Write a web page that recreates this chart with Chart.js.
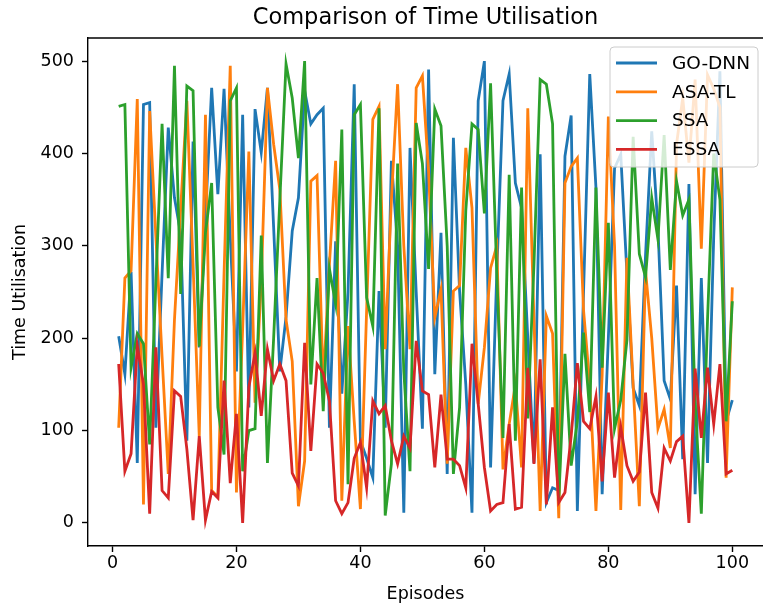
<!DOCTYPE html>
<html>
<head>
<meta charset="utf-8">
<script src="https://cdn.jsdelivr.net/npm/chart.js@4.4.0/dist/chart.umd.min.js"></script>
<style>
  html, body { margin: 0; padding: 0; background: #fff; }
  canvas { display: block; }
</style>
</head>
<body>
<canvas id="timeChart" width="763" height="608"></canvas>
<script>
// Episodes 1..100 on the x axis
const episodes = Array.from({length: 100}, (_, i) => i + 1);

// Values
const goDnn = [202, 161, 272, 65, 453, 455, 103, 270, 428, 352,
    313, 89, 413, 190, 330, 471, 356, 470, 310, 164,
    442, 125, 448, 401, 471, 320, 164, 223, 316, 352,
    468, 432, 442, 449, 103, 305, 140, 250, 475, 89,
    70, 49, 251, 103, 392, 300, 11, 406, 250, 102,
    491, 161, 314, 53, 417, 251, 150, 11, 457, 500,
    60, 270, 457, 486, 368, 341, 200, 65, 399, 22,
    38, 35, 397, 441, 13, 250, 486, 363, 31, 200,
    384, 399, 270, 146, 127, 290, 424, 320, 154, 134,
    257, 69, 367, 31, 265, 65, 310, 489, 110, 133];

const asaTl = [103, 265, 273, 459, 20, 446, 310, 180, 53, 220,
    340, 457, 280, 94, 442, 35, 28, 270, 495, 33,
    210, 402, 130, 260, 471, 410, 361, 220, 175, 18,
    67, 370, 376, 150, 280, 392, 24, 213, 110, 15,
    230, 437, 451, 188, 350, 475, 300, 188, 471, 484,
    380, 222, 253, 64, 251, 257, 406, 341, 129, 190,
    276, 300, 58, 107, 150, 60, 449, 220, 13, 224,
    205, 5, 368, 386, 395, 230, 150, 13, 160, 440,
    300, 14, 287, 150, 18, 273, 200, 102, 123, 81,
    410, 460, 390, 480, 297, 485, 470, 450, 49, 255];

const ssa = [451, 453, 168, 205, 194, 85, 260, 432, 265, 495,
    248, 473, 468, 191, 314, 368, 125, 74, 457, 471,
    56, 100, 102, 311, 65, 200, 350, 497, 460, 395,
    500, 150, 265, 121, 275, 237, 426, 42, 442, 453,
    244, 213, 449, 8, 64, 389, 164, 56, 433, 389,
    275, 448, 430, 300, 53, 125, 338, 432, 426, 335,
    476, 270, 92, 377, 89, 363, 113, 280, 480, 475,
    432, 24, 183, 62, 110, 206, 120, 363, 168, 325,
    102, 133, 198, 418, 291, 266, 352, 307, 420, 274,
    370, 333, 350, 130, 10, 220, 400, 350, 110, 240];

const essa = [172, 56, 75, 192, 150, 10, 190, 35, 27, 143,
    137, 80, 3, 94, 3, 34, 27, 154, 43, 118,
    0, 147, 184, 116, 188, 154, 172, 154, 54, 40,
    195, 78, 172, 162, 132, 24, 10, 22, 70, 87,
    38, 132, 118, 127, 89, 64, 94, 81, 197, 143,
    139, 60, 139, 69, 69, 62, 38, 194, 129, 60,
    13, 20, 22, 107, 15, 17, 168, 64, 177, 20,
    125, 22, 33, 94, 173, 110, 102, 137, 45, 141,
    49, 104, 62, 45, 55, 141, 33, 16, 81, 67,
    88, 94, 0, 167, 92, 168, 107, 172, 53, 57];

const seriesNames = ["GO-DNN", "ASA-TL", "SSA", "ESSA"];
const seriesValues = [goDnn, asaTl, ssa, essa];
const seriesColors = ["#1f77b4", "#ff7f0e", "#2ca02c", "#d62728"];

const xTicks = [0, 20, 40, 60, 80, 100];
const yTicks = [0, 100, 200, 300, 400, 500];

const fontFamily = "'DejaVu Sans', 'Liberation Sans', sans-serif";

// top spine, title and the boxed legend inside the plot (matplotlib look)
const frameAndLegend = {
    id: "frameAndLegend",
    afterDraw(chart) {
        const ctx = chart.ctx;
        const area = chart.chartArea;
        ctx.save();

        ctx.strokeStyle = "#000";
        ctx.lineWidth = 1.4;
        ctx.beginPath();
        ctx.moveTo(area.left, area.top);
        ctx.lineTo(area.right, area.top);
        ctx.stroke();

        ctx.fillStyle = "#000";
        ctx.font = "22.5px " + fontFamily;
        ctx.textAlign = "center";
        ctx.textBaseline = "middle";
        ctx.fillText("Comparison of Time Utilisation", (area.left + area.right) / 2, 18);

        const boxW = 148, boxH = 120;
        const bx = area.right - 5 - boxW;
        const by = area.top + 9;
        ctx.beginPath();
        ctx.roundRect(bx, by, boxW, boxH, 4);
        ctx.fillStyle = "rgba(255,255,255,0.8)";
        ctx.fill();
        ctx.strokeStyle = "#cccccc";
        ctx.lineWidth = 1;
        ctx.stroke();

        ctx.font = "18.5px " + fontFamily;
        ctx.textAlign = "left";
        seriesNames.forEach((name, i) => {
            const y = by + 16 + i * 28.8;
            ctx.strokeStyle = seriesColors[i];
            ctx.lineWidth = 2.8;
            ctx.beginPath();
            ctx.moveTo(bx + 6, y);
            ctx.lineTo(bx + 47, y);
            ctx.stroke();
            ctx.fillStyle = "#000";
            ctx.fillText(name, bx + 62, y + 1);
        });
        ctx.restore();
    },
};

const ctx = document.getElementById("timeChart");

new Chart(ctx, {
    type: "line",
    data: {
        datasets: seriesNames.map((name, i) => ({
            label: name,
            data: seriesValues[i].map((v, j) => ({x: episodes[j], y: v})),
            borderColor: seriesColors[i],
            backgroundColor: seriesColors[i],
            borderWidth: 2.8,
            pointRadius: 0,
            tension: 0,
            order: seriesNames.length - i,
        })),
    },
    options: {
        responsive: false,
        animation: false,
        devicePixelRatio: 1,
        layout: {padding: {top: 38, left: 0, right: 0, bottom: 0}},
        plugins: {
            legend: {display: false},
            tooltip: {enabled: false},
        },
        scales: {
            x: {
                type: "linear",
                min: -3.95,
                max: 104.95,
                afterBuildTicks: (axis) => {
                    axis.ticks = xTicks.map((v) => ({value: v}));
                },
                afterFit: (axis) => {
                    axis.height = 62;
                },
                grid: {
                    drawOnChartArea: false,
                    drawTicks: true,
                    tickLength: 6,
                    tickWidth: 1.4,
                    tickColor: "#000",
                },
                border: {color: "#000", width: 1.4},
                ticks: {
                    color: "#000",
                    padding: 1,
                    maxRotation: 0,
                    font: {family: fontFamily, size: 17.5},
                },
                title: {
                    display: true,
                    text: "Episodes",
                    color: "#000",
                    font: {family: fontFamily, size: 17.5},
                    padding: {top: 0, bottom: 3.5},
                },
            },
            y: {
                type: "linear",
                min: -25,
                max: 525,
                afterBuildTicks: (axis) => {
                    axis.ticks = yTicks.map((v) => ({value: v}));
                },
                afterFit: (axis) => {
                    axis.width = 88;
                },
                grid: {
                    drawOnChartArea: false,
                    drawTicks: true,
                    tickLength: 6,
                    tickWidth: 1.4,
                    tickColor: "#000",
                },
                border: {color: "#000", width: 1.4},
                ticks: {
                    color: "#000",
                    padding: 8,
                    font: {family: fontFamily, size: 17.5},
                },
                title: {
                    display: true,
                    text: "Time Utilisation",
                    color: "#000",
                    font: {family: fontFamily, size: 17.5},
                    padding: {top: 10, bottom: 0},
                },
            },
        },
    },
    plugins: [frameAndLegend],
});
</script>
</body>
</html>
